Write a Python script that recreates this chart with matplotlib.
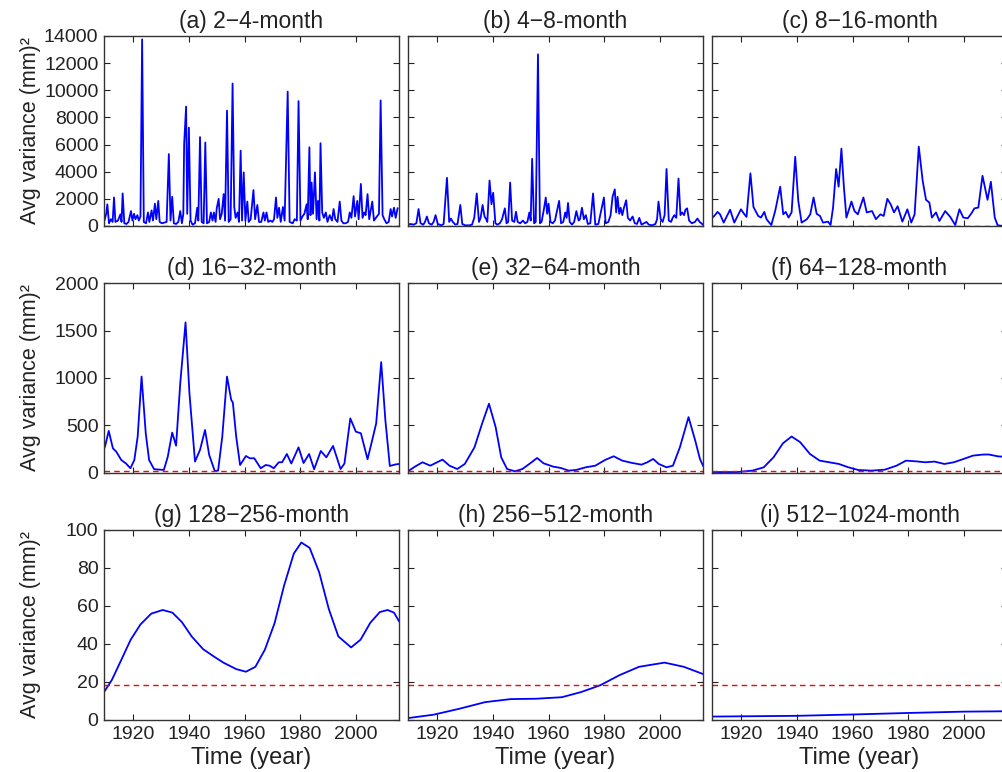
import matplotlib
matplotlib.use("Agg")
import matplotlib.pyplot as plt
import numpy as np

plt.rcParams['font.family'] = ['Liberation Sans', 'DejaVu Sans']

titles = ["(a) 2\u22124-month", "(b) 4\u22128-month", "(c) 8\u221216-month",
          "(d) 16\u221232-month", "(e) 32\u221264-month", "(f) 64\u2212128-month",
          "(g) 128\u2212256-month", "(h) 256\u2212512-month", "(i) 512\u22121024-month"]

threshold = 18.3
row_ylims = [(0, 14000), (0, 2000), (0, 100)]
row_yticks = [list(range(0, 14001, 2000)), list(range(0, 2001, 500)), list(range(0, 101, 20))]
x_ticks = [1920, 1940, 1960, 1980, 2000]
x_lim = (1909.5, 2015.5)

a_years = [1909.5, 1910.3, 1910.7, 1911.3, 1912.0, 1912.6, 1913.1, 1913.6, 1914.5, 1915.4, 1915.8, 1916.2,
           1916.8, 1917.6, 1918.3, 1919.2, 1919.7, 1920.3, 1920.8, 1921.5, 1922.0, 1922.6, 1923.2, 1923.8,
           1924.6, 1925.3, 1925.8, 1926.6, 1927.1, 1927.8, 1928.3, 1929.0, 1929.5, 1930.3, 1931.2, 1932.0,
           1932.8, 1933.4, 1934.0, 1934.6, 1935.4, 1936.2, 1936.9, 1937.5, 1938.0, 1938.3, 1939.0, 1939.4,
           1940.0, 1940.6, 1941.3, 1942.2, 1943.0, 1943.4, 1944.0, 1944.6, 1945.3, 1945.9, 1946.5, 1947.3,
           1947.9, 1948.5, 1949.0, 1949.6, 1950.0, 1950.7, 1951.2, 1951.8, 1952.5, 1953.0, 1953.7, 1954.3,
           1955.0, 1955.7, 1956.3, 1956.8, 1957.5, 1958.0, 1958.6, 1959.1, 1959.7, 1960.3, 1961.0, 1961.5,
           1962.2, 1963.2, 1963.8, 1964.6, 1965.2, 1966.0, 1966.8, 1967.3, 1967.9, 1968.5, 1969.3, 1970.0,
           1970.6, 1971.3, 1971.8, 1972.4, 1973.0, 1973.8, 1974.4, 1975.5, 1976.2, 1977.3, 1978.0, 1978.8,
           1979.4, 1980.1, 1980.8, 1981.5, 1982.3, 1982.7, 1983.3, 1983.7, 1984.1, 1984.6, 1985.3, 1985.9,
           1986.4, 1986.9, 1987.3, 1987.9, 1988.5, 1989.2, 1989.8, 1990.6, 1991.4, 1992.0, 1992.6, 1993.4,
           1994.2, 1994.8, 1995.5, 1996.3, 1997.2, 1997.8, 1998.4, 1999.2, 1999.7, 2000.5, 2001.0, 2001.8,
           2002.4, 2003.0, 2003.5, 2004.2, 2004.8, 2005.3, 2005.9, 2006.5, 2007.2, 2008.3, 2008.9, 2009.6,
           2010.2, 2011.0, 2011.8, 2012.5, 2013.0, 2013.7, 2014.3, 2015.0]
a_vals = [300, 900, 1600, 200, 500, 300, 2100, 300, 400, 860, 300, 2400,
          200, 150, 300, 1100, 400, 900, 500, 800, 400, 700, 13750, 300,
          200, 1000, 300, 1150, 400, 1650, 500, 1850, 300, 200, 250, 300,
          5300, 400, 2150, 200, 150, 300, 1100, 200, 900, 6050, 8800, 900,
          7250, 400, 100, 200, 1350, 400, 6550, 300, 200, 6150, 200, 300,
          1000, 400, 1000, 300, 1300, 2000, 500, 900, 2350, 400, 8500, 300,
          500, 10500, 1400, 600, 1000, 300, 5550, 400, 3950, 400, 1800, 300,
          500, 2650, 500, 1550, 300, 300, 1000, 400, 1000, 300, 400, 300,
          500, 2100, 600, 1350, 300, 1400, 400, 9900, 300, 200, 500, 400,
          9200, 400, 700, 900, 1600, 500, 5800, 800, 3200, 900, 3950, 500,
          1850, 400, 6100, 1000, 600, 1000, 300, 800, 400, 1250, 500, 300,
          1800, 400, 200, 200, 300, 1000, 600, 2200, 700, 1850, 500, 3100,
          600, 1000, 800, 2350, 500, 1100, 1800, 400, 600, 900, 9250, 800,
          500, 200, 300, 1250, 700, 1350, 600, 1300]

b_years = [1909.5, 1910.5, 1911.5, 1912.5, 1913.3, 1914.0, 1915.0, 1915.6, 1916.3, 1917.0, 1918.0, 1918.7,
           1919.4, 1920.2, 1921.5, 1922.3, 1923.5, 1924.3, 1924.9, 1925.6, 1926.5, 1927.3, 1928.3, 1929.0,
           1930.0, 1931.5, 1932.5, 1933.3, 1934.2, 1935.0, 1935.6, 1936.3, 1937.0, 1937.6, 1938.0, 1938.8,
           1939.5, 1940.1, 1940.9, 1941.6, 1942.5, 1943.3, 1944.3, 1944.9, 1945.5, 1946.2, 1946.9, 1947.7,
           1948.3, 1948.9, 1949.8, 1950.8, 1951.6, 1952.4, 1953.1, 1953.6, 1954.1, 1954.8, 1955.4, 1956.2,
           1956.9, 1957.5, 1958.3, 1959.0, 1959.5, 1960.0, 1960.7, 1961.5, 1962.3, 1963.8, 1964.5, 1965.3,
           1966.0, 1966.5, 1967.0, 1967.6, 1968.4, 1969.2, 1970.0, 1970.8, 1971.3, 1972.0, 1972.7, 1973.4,
           1974.1, 1975.0, 1976.0, 1976.8, 1977.9, 1979.9, 1980.5, 1981.5, 1982.3, 1983.0, 1983.8, 1984.3,
           1984.8, 1985.4, 1985.9, 1986.5, 1987.1, 1987.9, 1988.5, 1989.3, 1990.2, 1991.0, 1991.8, 1992.6,
           1993.4, 1994.3, 1995.2, 1996.0, 1997.2, 1998.4, 1999.0, 1999.5, 2000.3, 2001.0, 2001.7, 2002.4,
           2003.2, 2004.0, 2004.6, 2005.2, 2005.9, 2006.7, 2007.4, 2008.0, 2008.7, 2009.2, 2009.8, 2010.5,
           2011.5, 2012.6, 2013.5, 2014.3, 2015.5]
b_vals = [100, 150, 100, 200, 1250, 200, 100, 300, 700, 200, 100, 300,
          800, 150, 50, 150, 3550, 300, 550, 300, 100, 150, 1550, 150,
          50, 50, 100, 600, 2400, 300, 600, 1550, 700, 500, 300, 3350,
          1600, 2450, 200, 100, 200, 500, 1300, 200, 300, 3200, 400, 300,
          1050, 300, 200, 400, 200, 300, 1000, 400, 4950, 200, 300, 12650,
          200, 300, 1200, 2100, 900, 1650, 300, 200, 400, 1850, 200, 300,
          1000, 600, 1700, 300, 100, 300, 1100, 400, 500, 1350, 500, 800,
          150, 200, 2400, 100, 150, 2100, 200, 300, 800, 2150, 2700, 1000,
          2150, 900, 1350, 800, 1350, 1900, 600, 400, 700, 200, 150, 600,
          100, 200, 300, 100, 50, 150, 500, 1800, 500, 300, 800, 4200,
          400, 300, 600, 800, 600, 3500, 800, 1000, 800, 1200, 1300, 400,
          200, 300, 550, 300, 100]

c_years = [1909.5, 1910.3, 1911.5, 1912.4, 1913.7, 1916.0, 1917.5, 1919.9, 1921.0, 1921.9, 1923.3, 1924.4,
           1926.1, 1927.1, 1928.3, 1929.1, 1930.8, 1932.2, 1934.0, 1935.1, 1936.0, 1937.0, 1938.1, 1939.4,
           1940.5, 1941.7, 1943.6, 1944.8, 1946.0, 1947.1, 1948.3, 1949.4, 1951.2, 1952.1, 1953.0, 1954.1,
           1955.0, 1956.0, 1956.9, 1957.8, 1959.0, 1959.6, 1960.7, 1961.9, 1963.9, 1965.1, 1967.0, 1968.4,
           1970.0, 1971.2, 1972.5, 1973.7, 1974.9, 1976.2, 1977.9, 1979.7, 1981.1, 1982.3, 1983.8, 1985.2,
           1986.4, 1987.6, 1988.5, 1990.0, 1991.2, 1993.3, 1995.1, 1996.9, 1998.4, 1999.8, 2001.4, 2002.6,
           2003.8, 2005.2, 2006.7, 2008.5, 2009.7, 2011.1, 2012.1, 2013.0, 2015.5]
c_vals = [600, 740, 1040, 860, 250, 1200, 250, 1230, 900, 670, 3880, 1400,
          740, 620, 1040, 500, 70, 1100, 2900, 860, 1040, 620, 1000, 5100,
          1850, 250, 500, 860, 2100, 900, 740, 250, 320, 70, 1360, 4200,
          2900, 5700, 2840, 620, 1400, 1800, 1100, 860, 2100, 1000, 1100, 500,
          860, 740, 2000, 1600, 1000, 1460, 320, 1230, 250, 860, 5850, 3330,
          1930, 1730, 620, 1000, 370, 1100, 670, 70, 1230, 620, 570, 900,
          1300, 1360, 3700, 1930, 3260, 620, 70, 20, 20]

d_years = [1909.5, 1910.0, 1911.2, 1912.7, 1913.9, 1915.7, 1917.4, 1919.0, 1920.4, 1921.6, 1923.0, 1924.5,
           1925.7, 1927.5, 1931.0, 1932.4, 1934.0, 1935.4, 1936.9, 1938.8, 1940.2, 1942.2, 1944.0, 1945.8,
           1947.3, 1949.3, 1950.5, 1952.0, 1953.7, 1955.2, 1955.8, 1957.0, 1958.4, 1960.5, 1961.9, 1963.5,
           1965.8, 1967.6, 1969.0, 1970.5, 1972.3, 1973.5, 1975.2, 1976.8, 1979.4, 1981.2, 1983.2, 1985.0,
           1987.4, 1989.4, 1991.8, 1994.5, 1995.9, 1998.0, 2000.0, 2001.8, 2004.2, 2005.9, 2007.3, 2009.1,
           2010.6, 2012.2, 2014.2, 2015.5]
d_vals = [250, 295, 443, 260, 225, 137, 100, 50, 137, 383, 1015, 418,
          137, 40, 32, 170, 425, 288, 945, 1585, 840, 120, 243, 453,
          190, 21, 25, 383, 1015, 770, 742, 383, 84, 179, 155, 155,
          50, 84, 77, 50, 113, 113, 200, 100, 270, 105, 200, 40,
          232, 165, 285, 42, 100, 575, 435, 418, 145, 350, 522, 1167,
          557, 74, 90, 95]

e_years = [1909.5, 1912.0, 1914.7, 1917.5, 1921.9, 1924.4, 1927.2, 1929.9, 1933.4, 1936.1, 1938.6, 1941.0,
           1943.0, 1945.1, 1947.9, 1950.6, 1953.4, 1955.9, 1958.2, 1961.7, 1964.4, 1967.2, 1969.9, 1973.4,
           1976.8, 1980.3, 1983.4, 1986.5, 1990.0, 1993.4, 1995.5, 1997.6, 1999.6, 2002.4, 2004.7, 2007.2,
           2010.3, 2012.7, 2014.4, 2015.5]
e_vals = [18, 67, 113, 77, 141, 77, 42, 95, 271, 518, 729, 482,
          165, 42, 18, 42, 102, 158, 102, 67, 53, 25, 32, 60,
          77, 137, 176, 130, 106, 88, 113, 148, 95, 60, 77, 271,
          588, 342, 148, 77]

f_years = [1909.5, 1918.5, 1924.0, 1928.1, 1931.6, 1935.0, 1938.1, 1941.2, 1944.7, 1948.2, 1951.6, 1955.1,
           1958.5, 1962.0, 1966.8, 1971.6, 1975.8, 1979.2, 1982.7, 1986.1, 1989.5, 1993.0, 1996.4, 1999.9,
           2003.3, 2006.8, 2008.9, 2012.3, 2015.5]
f_vals = [10, 10, 25, 60, 165, 313, 384, 324, 200, 130, 113, 95,
          60, 32, 25, 35, 77, 130, 123, 113, 120, 95, 113, 148,
          183, 194, 195, 175, 170]

g_years = [1909.5, 1912.3, 1915.7, 1919.1, 1922.6, 1926.5, 1930.6, 1934.1, 1937.5, 1941.0, 1945.1, 1949.0,
           1952.4, 1957.0, 1960.5, 1963.9, 1967.3, 1970.8, 1974.2, 1977.7, 1980.4, 1983.4, 1986.8, 1990.3,
           1993.7, 1998.3, 2001.7, 2005.2, 2008.6, 2011.4, 2013.7, 2015.5]
g_vals = [14.7, 21, 31.6, 42.3, 50.3, 56, 57.9, 56.5, 51.5, 44, 37.3, 33.4,
          30.2, 26.8, 25.4, 28, 37, 51, 70.7, 87.6, 93.4, 90.6, 77.8, 58.3,
          44, 38.2, 42.3, 51.2, 56.8, 57.9, 56.5, 52]

h_years = [1909.5, 1918.7, 1927.9, 1937.2, 1946.4, 1955.6, 1964.8, 1971.7, 1978.6, 1985.5, 1992.5, 2001.7,
           2008.6, 2015.5]
h_vals = [1, 2.8, 5.9, 9.4, 11, 11.2, 12, 14.7, 18.3, 23.6, 28, 30.2, 28, 24.2]

i_years = [1909.5, 1940.0, 1960.0, 1980.0, 2000.0, 2015.5]
i_vals = [1.8, 2.2, 2.9, 3.7, 4.4, 4.6]

series = [(a_years, a_vals), (b_years, b_vals), (c_years, c_vals),
          (d_years, d_vals), (e_years, e_vals), (f_years, f_vals),
          (g_years, g_vals), (h_years, h_vals), (i_years, i_vals)]

W, H = 1002, 772
fig = plt.figure(figsize=(W / 100, H / 100), dpi=100)
col_left = [104, 408, 712]
ax_w = 295
row_top = [36, 283, 530]
ax_h = 190

for k, (xs, ys) in enumerate(series):
    r, c = divmod(k, 3)
    ax = fig.add_axes([col_left[c] / W, 1 - (row_top[r] + ax_h) / H, ax_w / W, ax_h / H])
    ax.plot(xs, ys, color='#0000ff', lw=1.3, solid_joinstyle='round')
    ax.axhline(threshold, color='#ff0000', lw=1.0, ls=(0, (4, 3)))
    ax.set_xlim(*x_lim)
    ax.set_ylim(*row_ylims[r])
    ax.set_yticks(row_yticks[r])
    ax.set_xticks(x_ticks)
    ax.tick_params(direction='in', top=True, right=True, length=4, width=0.8,
                   labelsize=14, colors='#222222', pad=4)
    for s in ax.spines.values():
        s.set_color('#333333')
        s.set_linewidth(1.0)
    ax.set_title(titles[k], fontsize=16.5, pad=6, color='#222222')
    if c == 0:
        ax.set_ylabel("Avg variance (mm)\u00b2", fontsize=15.5, color='#222222')
        ax.yaxis.set_label_coords(-0.215, 0.5)
    else:
        ax.set_yticklabels([])
    if r == 2:
        ax.set_xlabel("Time (year)", fontsize=17, color='#222222', labelpad=3)
    else:
        ax.set_xticklabels([])

fig.savefig("out.png", dpi=100, facecolor='white')
